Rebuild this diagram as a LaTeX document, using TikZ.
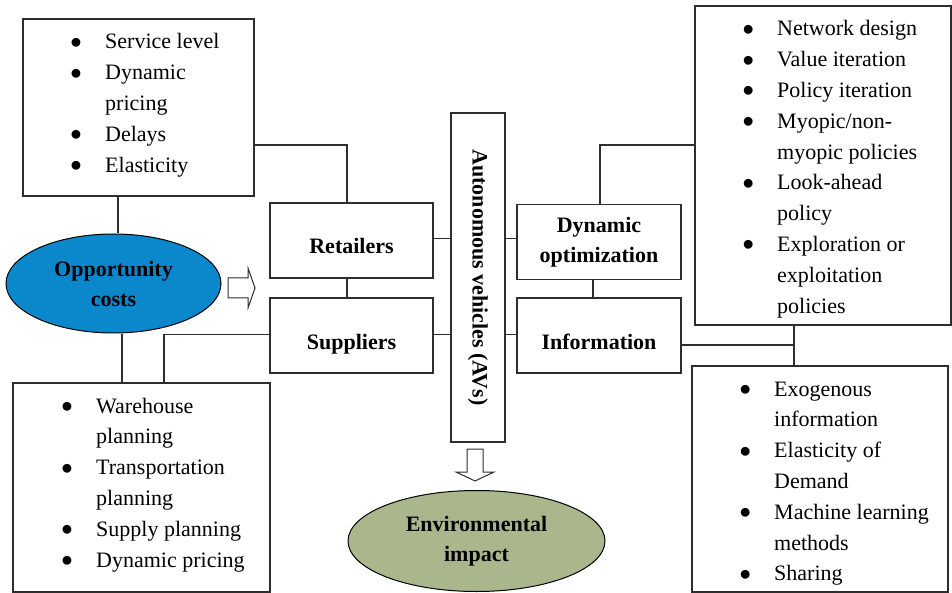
\documentclass[tikz,border=0pt]{standalone}
\usepackage{graphicx}
\usepackage{fontspec}
\setmainfont{Liberation Serif}
\usetikzlibrary{shapes.geometric, positioning}

\definecolor{oppblue}{HTML}{0A88CB}
\definecolor{envolive}{HTML}{AAB68C}
\definecolor{edge}{HTML}{2E2E2E}

% bullet list: one column for the dot, one for the words
\newcommand{\bitems}[1]{\begin{tabular}[t]{@{}p{34pt}@{}l@{}}#1\end{tabular}}
\newcommand{\bdot}{\hspace*{5pt}\makebox[0pt]{\raisebox{0.6pt}{\scalebox{1.1}{$\bullet$}}}}

\begin{document}
\begin{tikzpicture}[x=1pt, y=-1pt,
  every node/.style={font=\fontsize{22}{30.8}\selectfont},
  box/.style={draw=edge, line width=1.3pt, rectangle},
  hub/.style={box, font=\fontsize{22}{30}\selectfont\bfseries, align=center},
  lowtext/.style={text height=31pt, text depth=4pt},
  blob/.style={ellipse, draw=black, line width=1pt, font=\fontsize{22}{30}\selectfont\bfseries, align=center},
  listtext/.style={inner sep=0pt, anchor=base west},
  link/.style={draw=edge, line width=1.2pt}]
\useasboundingbox (0,0) rectangle (952,593);

% Central boxes
\node[hub, minimum width=54pt, minimum height=329pt] (av) at (478,277.5) {\rotatebox{-90}{Autonomous vehicles (AVs)}};
\node[hub, lowtext, minimum width=163pt, minimum height=75pt] (retail) at (351.5,240.5) {Retailers};
\node[hub, lowtext, minimum width=163pt, minimum height=75pt] (supp) at (351.5,335.5) {Suppliers};
\node[hub, minimum width=164pt, minimum height=75pt] (dynopt) at (599,242) {Dynamic\\optimization};
\node[hub, lowtext, minimum width=164pt, minimum height=75pt] (info) at (599,335.5) {Information};

% Ellipses
\node[blob, fill=oppblue, minimum width=215pt, minimum height=99pt] (oppcost) at (113.5,283.5) {Opportunity\\costs};
\node[blob, fill=envolive, minimum width=257pt, minimum height=101pt] (envimp) at (476.5,541) {Environmental\\impact};

% List boxes
\node[box, minimum width=231pt, minimum height=177pt] (svcbox) at (138.5,107.5) {};
\node[box, minimum width=257pt, minimum height=209pt] (whbox) at (141.5,487.5) {};
\node[box, minimum width=256pt, minimum height=319pt] (polbox) at (823,165.5) {};
\node[box, minimum width=256pt, minimum height=226pt] (exobox) at (820,479) {};

\node[listtext] (svclist) at (71,49) {\bitems{\bdot & Service level\\ \bdot & Dynamic\\ & pricing\\ \bdot & Delays\\ \bdot & Elasticity}};
\node[listtext] (whlist) at (62,413) {\bitems{\bdot & Warehouse\\ & planning\\ \bdot & Transportation\\ & planning\\ \bdot & Supply planning\\ \bdot & Dynamic pricing}};
\node[listtext] (pollist) at (743,36) {\bitems{\bdot & Network design\\ \bdot & Value iteration\\ \bdot & Policy iteration\\ \bdot & Myopic/non-\\ & myopic policies\\ \bdot & Look-ahead\\ & policy\\ \bdot & Exploration or\\ & exploitation\\ & policies}};
\node[listtext] (exolist) at (740,396) {\bitems{\bdot & Exogenous\\ & information\\ \bdot & Elasticity of\\ & Demand\\ \bdot & Machine learning\\ & methods\\ \bdot & Sharing}};

% Connectors
\draw[link] ([yshift=-37.5pt]svcbox.east) -| ([xshift=-4.5pt]retail.north);
\draw[link] ([xshift=-20.5pt]svcbox.south) -- ([xshift=-20.5pt]svcbox.south |- oppcost.north);
\draw[link] ([xshift=8.5pt]oppcost.south) -- ([xshift=8.5pt]oppcost.south |- whbox.north);
\draw[link] ([yshift=1pt]supp.west) -| ([xshift=22.5pt]whbox.north);
\draw[link] ([xshift=-4.5pt]retail.south) -- ([xshift=-4.5pt]supp.north);
\draw[link] ([yshift=2pt]retail.east) -- ([yshift=2pt]retail.east -| av.west);
\draw[link] ([yshift=1pt]supp.east) -- ([yshift=1pt]supp.east -| av.west);
\draw[link] ([yshift=2pt]av.east |- retail.east) -- ([yshift=2pt]dynopt.west |- retail.east);
\draw[link] ([yshift=1pt]av.east |- info.west) -- ([yshift=1pt]info.west);
\draw[link] ([xshift=1pt]dynopt.north) |- ([yshift=20.5pt]polbox.west);
\draw[link] ([xshift=-6pt]dynopt.south) -- ([xshift=-6pt]info.north);
\coordinate (infojoin) at (794,345);
\draw[link] ([yshift=-9.5pt]info.east) -- (infojoin);
\draw[link] (polbox.south -| infojoin) -- (exobox.north -| infojoin);

% Block arrows
\draw[edge, line width=1pt, fill=white] (228,278) -- (248,278) -- (248,268) -- (255,288) -- (248,308) -- (248,298) -- (228,298) -- cycle;
\draw[edge, line width=1pt, fill=white] (467,449) -- (483,449) -- (483,472) -- (494,472) -- (475,481) -- (456,472) -- (467,472) -- cycle;
\end{tikzpicture}
\end{document}
